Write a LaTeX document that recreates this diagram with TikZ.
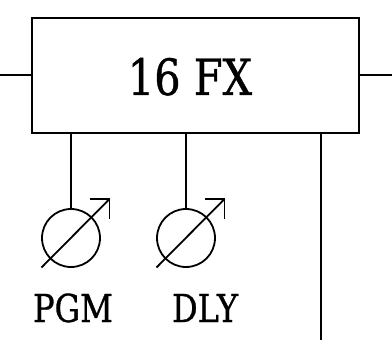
\documentclass[tikz,border=0pt]{standalone}
\usepackage{fontspec}
\setmainfont[FakeStretch=0.83,FakeBold=0.8]{DejaVu Serif}
\begin{document}
\begin{tikzpicture}[x=1pt,y=-1pt,
  wire/.style={line width=1.8pt,black},
  mainbox/.style={draw,line width=2pt,minimum width=327pt,minimum height=115pt,inner sep=0pt},
  meter/.style={draw,circle,line width=1.8pt,minimum size=58pt,inner sep=0pt},
  bigtxt/.style={font=\fontsize{50}{56}\selectfont,anchor=base,inner sep=0pt},
  lbl/.style={font=\fontsize{38.5}{42}\selectfont,anchor=base,inner sep=0pt}]
\useasboundingbox (0,0) rectangle (392,340);
\node[mainbox] (box) at (195.5,75) {};
\node[bigtxt] (t) at (190,95) {16 FX};
\node[meter] (m1) at (71,238) {};
\node[meter] (m2) at (186,238) {};
\node[lbl] (l1) at (73,322) {PGM};
\node[lbl] (l2) at (205,322) {DLY};
\coordinate (inL) at (0,75);
\coordinate (outR) at (392,75);
\coordinate (bot) at (321,340);
\draw[wire] (inL) -- (box.west);
\draw[wire] (box.east) -- (outR);
\draw[wire] (box.south -| m1) -- (m1.north);
\draw[wire] (box.south -| m2) -- (m2.north);
\draw[wire] (box.south -| bot) -- (bot);
\foreach \m in {m1,m2}{
  \coordinate (a\m) at ([shift={(-29.5,29.5)}]\m.center);
  \coordinate (b\m) at ([shift={(38.5,-39)}]\m.center);
  \draw[wire,line cap=butt] (a\m) -- (b\m);
  \draw[wire,line join=miter] ([shift={(-19.5,0)}]b\m) -- (b\m) -- ([shift={(0,19.5)}]b\m);
}
\end{tikzpicture}
\end{document}
